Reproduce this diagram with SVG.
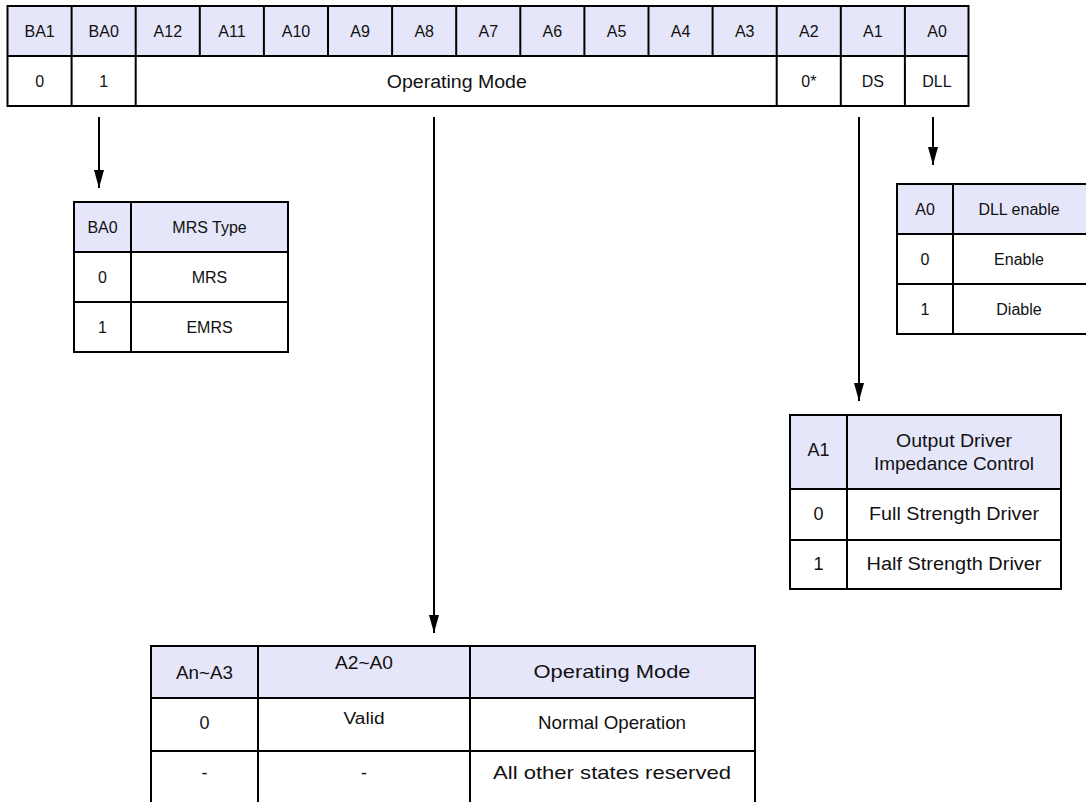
<svg xmlns="http://www.w3.org/2000/svg" width="1086" height="802" viewBox="0 0 1086 802">
<defs>
<style>
.hd{fill:#E6E6FA;stroke:none}
.ln{stroke:#000;stroke-width:2;fill:none}
.t{font-family:"Liberation Sans",Arial,sans-serif;font-size:16px;fill:#111;text-anchor:middle}
.m{font-size:18px}
.l{font-size:19px}
.s{font-size:15px}
.conn{stroke:#000;stroke-width:2;fill:none}
</style>
<marker id="ah" markerUnits="userSpaceOnUse" markerWidth="18" markerHeight="10" refX="18" refY="5" orient="auto">
<path d="M0,0 L18,5 L0,10 z" fill="#000"/>
</marker>
</defs>
<rect width="1086" height="802" fill="#fff"/>

<g id="register">
<rect class="hd" x="7.5" y="6" width="961" height="50"/>
<path class="ln" d="M7.5,6 H968.5 V106 H7.5 Z M7.5,56 H968.5"/>
<path class="ln" d="M71.6,6 V106 M135.7,6 V106 M199.8,6 V56 M263.9,6 V56 M328,6 V56 M392.1,6 V56 M456.2,6 V56 M520.3,6 V56 M584.4,6 V56 M648.5,6 V56 M712.6,6 V56 M776.7,6 V106 M840.8,6 V106 M904.9,6 V106"/>
<g class="t">
<text x="39.6" y="37">BA1</text>
<text x="103.7" y="37">BA0</text>
<text x="167.8" y="37">A12</text>
<text x="231.9" y="37">A11</text>
<text x="296" y="37">A10</text>
<text x="360.1" y="37">A9</text>
<text x="424.2" y="37">A8</text>
<text x="488.3" y="37">A7</text>
<text x="552.4" y="37">A6</text>
<text x="616.5" y="37">A5</text>
<text x="680.6" y="37">A4</text>
<text x="744.7" y="37">A3</text>
<text x="808.8" y="37">A2</text>
<text x="872.9" y="37">A1</text>
<text x="937" y="37">A0</text>
<text x="39.6" y="87">0</text>
<text x="103.7" y="87">1</text>
<text x="456.8" y="87.5" class="m" textLength="140" lengthAdjust="spacingAndGlyphs">Operating Mode</text>
<text x="808.8" y="87">0*</text>
<text x="872.9" y="87">DS</text>
<text x="937" y="87">DLL</text>
</g>
</g>

<g id="mrs-type">
<rect class="hd" x="74" y="202" width="214" height="50"/>
<path class="ln" d="M74,202 H288 V352 H74 Z M74,252 H288 M74,302 H288 M131,202 V352"/>
<g class="t">
<text x="102.5" y="233">BA0</text>
<text x="209.5" y="233">MRS Type</text>
<text x="102.5" y="283">0</text>
<text x="209.5" y="283">MRS</text>
<text x="102.5" y="333">1</text>
<text x="209.5" y="333">EMRS</text>
</g>
</g>

<g id="dll-enable">
<rect class="hd" x="897" y="184" width="189" height="50"/>
<path class="ln" d="M1087,184 H897 V334 H1087 M897,234 H1087 M897,284 H1087 M953,184 V334"/>
<g class="t">
<text x="925" y="215">A0</text>
<text x="1019" y="215">DLL enable</text>
<text x="925" y="265">0</text>
<text x="1019" y="265">Enable</text>
<text x="925" y="315">1</text>
<text x="1019" y="315">Diable</text>
</g>
</g>

<g id="driver-impedance">
<rect class="hd" x="790" y="415" width="271" height="74"/>
<path class="ln" d="M790,415 H1061 V589 H790 Z M790,489 H1061 M790,540 H1061 M847,415 V589"/>
<g class="t">
<text x="818.5" y="456" class="m">A1</text>
<text x="954" y="447" class="m" textLength="116" lengthAdjust="spacingAndGlyphs">Output Driver</text>
<text x="954" y="470" class="m" textLength="160" lengthAdjust="spacingAndGlyphs">Impedance Control</text>
<text x="818.5" y="520" class="m">0</text>
<text x="954" y="520" class="m" textLength="170" lengthAdjust="spacingAndGlyphs">Full Strength Driver</text>
<text x="818.5" y="570" class="m">1</text>
<text x="954" y="570" class="m" textLength="175" lengthAdjust="spacingAndGlyphs">Half Strength Driver</text>
</g>
</g>

<g id="operating-mode">
<rect class="hd" x="151" y="646" width="604" height="52"/>
<path class="ln" d="M151,802 V646 H755 V802 M151,698 H755 M151,751 H755 M258,646 V802 M470,646 V802"/>
<g class="t">
<text x="204.5" y="679" class="m" textLength="57" lengthAdjust="spacingAndGlyphs">An~A3</text>
<text x="364" y="669" class="m" textLength="58" lengthAdjust="spacingAndGlyphs">A2~A0</text>
<text x="612" y="678" class="l" textLength="157" lengthAdjust="spacingAndGlyphs">Operating Mode</text>
<text x="204.5" y="729" class="m">0</text>
<text x="364" y="724" class="t" textLength="41" lengthAdjust="spacingAndGlyphs">Valid</text>
<text x="612" y="729" class="l" textLength="148" lengthAdjust="spacingAndGlyphs">Normal Operation</text>
<text x="204.5" y="779" class="m">-</text>
<text x="364" y="779" class="m">-</text>
<text x="612" y="779" class="l" textLength="238" lengthAdjust="spacingAndGlyphs">All other states reserved</text>
</g>
</g>

<g id="connectors">
<line class="conn" x1="99" y1="117" x2="99" y2="188" marker-end="url(#ah)"/>
<line class="conn" x1="434" y1="117" x2="434" y2="633" marker-end="url(#ah)"/>
<line class="conn" x1="859" y1="117" x2="859" y2="401" marker-end="url(#ah)"/>
<line class="conn" x1="933" y1="117" x2="933" y2="165" marker-end="url(#ah)"/>
</g>
</svg>
